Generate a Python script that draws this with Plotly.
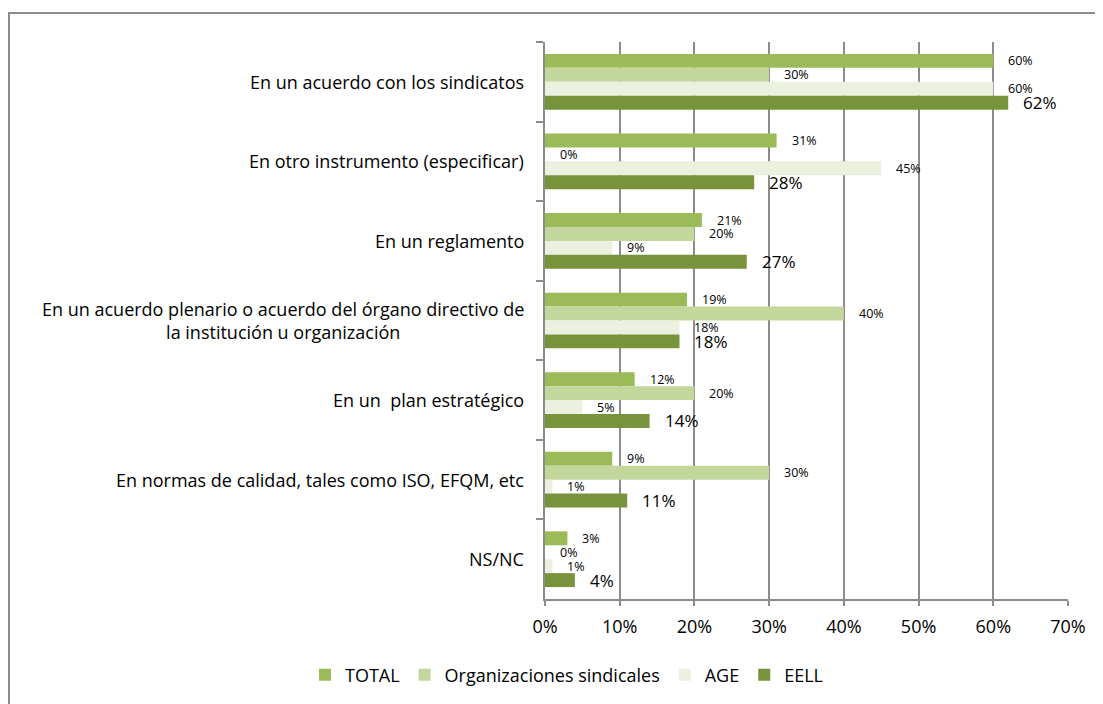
import plotly.graph_objects as go

categories = [
    "En un acuerdo con los sindicatos",
    "En otro instrumento (especificar)",
    "En un reglamento",
    "En un acuerdo plenario o acuerdo del órgano directivo de<br>la institución u organización",
    "En un  plan estratégico",
    "En normas de calidad, tales como ISO, EFQM, etc",
    "NS/NC",
]
series_names = ["TOTAL", "Organizaciones sindicales", "AGE", "EELL"]
total = [60, 31, 21, 19, 12, 9, 3]
sindicales = [30, 0, 20, 40, 20, 30, 0]
age = [60, 45, 9, 18, 5, 1, 1]
eell = [62, 28, 27, 18, 14, 11, 4]
x_tick_values = [0, 10, 20, 30, 40, 50, 60, 70]
x_tick_labels = ["0%", "10%", "20%", "30%", "40%", "50%", "60%", "70%"]

series_values = [total, sindicales, age, eell]
colors = ["#9BBB59", "#C3D69B", "#EBF1DE", "#77933C"]
label_sizes = [12.5, 12.5, 12.5, 17]

# page is rendered with an 8px body margin; figure sized to fit the window
OFF = 8
W, H = 1103 - OFF, 704 - OFF
ML, MR, MT, MB = 545 - OFF, 35, 42 - OFF, 105
BARGAP = 0.3
FONT = "Open Sans"
AXIS_COL = "#8C8C8C"

fig = go.Figure()
for name, vals, col in zip(series_names, series_values, colors):
    fig.add_trace(go.Bar(
        y=categories, x=vals, name=name, orientation="h",
        marker=dict(color=col, line=dict(width=0)),
        hoverinfo="x+y",
    ))

plot_h = H - MT - MB
plot_w = W - ML - MR
cat_px = plot_h / len(categories)
bar_px = cat_px * (1 - BARGAP) / len(series_names)

annotations = []
for i, (vals, fs) in enumerate(zip(series_values, label_sizes)):
    for c, v in zip(categories, vals):
        annotations.append(dict(
            x=v, y=c, xref="x", yref="y", text=f"{v}%", showarrow=False,
            xanchor="left", yanchor="middle", xshift=13,
            yshift=(1.5 - i) * bar_px,
            font=dict(family=FONT, size=fs, color="#000000"),
        ))
for c in categories:
    annotations.append(dict(
        x=0, y=c, xref="paper", yref="y", text=c, showarrow=False,
        xanchor="right", yanchor="middle", align="center", xshift=-19,
        font=dict(family=FONT, size=18, color="#000000"),
    ))

fig.update_layout(
    width=W, height=H,
    margin=dict(l=ML, r=MR, t=MT, b=MB, pad=0),
    paper_bgcolor="white", plot_bgcolor="white",
    barmode="group", bargap=BARGAP, bargroupgap=0,
    font=dict(family=FONT, size=18, color="#000000"),
    xaxis=dict(
        range=[0, 70], tickmode="array",
        tickvals=x_tick_values, ticktext=x_tick_labels,
        showgrid=True, gridcolor=AXIS_COL, gridwidth=1.5,
        showline=True, linecolor=AXIS_COL, linewidth=1.5,
        ticks="outside", ticklen=5, tickcolor=AXIS_COL, tickwidth=1.5,
        ticklabelstandoff=6,
        tickfont=dict(family=FONT, size=18, color="#000000"),
        zeroline=False, fixedrange=True,
    ),
    yaxis=dict(
        autorange="reversed", type="category",
        showticklabels=False, showgrid=False,
        showline=True, linecolor=AXIS_COL, linewidth=1.5,
        ticks="outside", tickson="boundaries", ticklen=7,
        tickcolor=AXIS_COL, tickwidth=1.5, fixedrange=True,
    ),
    legend=dict(
        orientation="h", xref="container", yref="container",
        x=(567 - OFF) / W, y=1 - (675 - OFF) / H,
        xanchor="center", yanchor="middle",
        font=dict(family=FONT, size=18, color="#000000"),
        traceorder="normal", itemclick=False, itemwidth=30,
    ),
    annotations=annotations,
    showlegend=True,
)

# outer chart-area border (only top and left edges visible in the window)
fig.add_shape(
    type="rect", xref="paper", yref="paper",
    x0=(1 - ML) / plot_w, x1=(W + 50 - ML) / plot_w,
    y0=-(H + 50 - MT - plot_h) / plot_h, y1=(H - MB - (13 - OFF)) / plot_h,
    line=dict(color=AXIS_COL, width=2), fillcolor="rgba(0,0,0,0)",
    layer="below",
)

fig.write_html("out.html")
